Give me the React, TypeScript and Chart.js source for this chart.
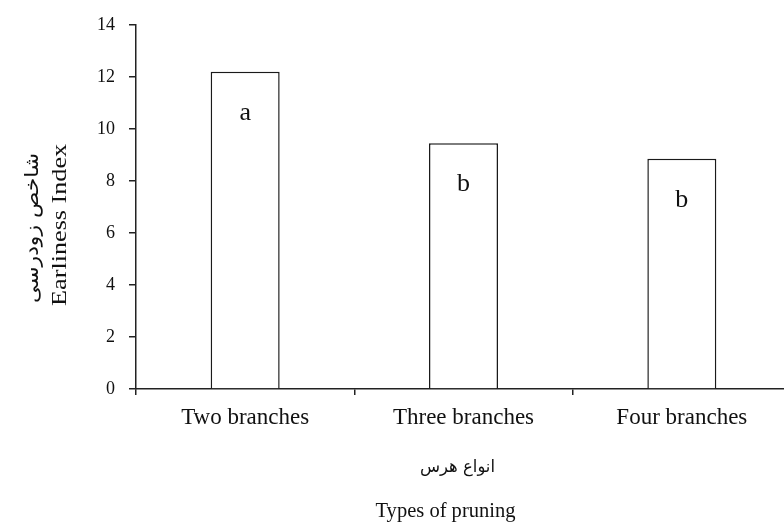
import React, { useEffect, useRef } from "react";
import { Chart, registerables } from "chart.js";

Chart.register(...registerables);

const categories = ["Two branches", "Three branches", "Four branches"];
const earlinessIndex = [12.2, 9.45, 8.85];
const significanceLetters = ["a", "b", "b"];
const yTicks = [0, 2, 4, 6, 8, 10, 12, 14];
const yTitleFa = "شاخص زودرسی";
const yTitleEn = "Earliness Index";
const xTitleFa = "انواع هرس";
const xTitleEn = "Types of pruning";

const SERIF = '"Liberation Serif", "Times New Roman", serif';
const ARABIC = '"DejaVu Sans", sans-serif';
const INK = "#111111";
const AXIS = "#222222";

const annotate = {
  id: "annotate",
  afterDatasetsDraw(chart: any) {
    const ctx = chart.ctx;
    const meta = chart.getDatasetMeta(0);
    ctx.save();
    ctx.fillStyle = INK;
    ctx.font = `26px ${SERIF}`;
    ctx.textAlign = "center";
    ctx.textBaseline = "alphabetic";
    meta.data.forEach((bar: any, i: number) => {
      ctx.fillText(significanceLetters[i], bar.x, bar.y + 48);
    });
    ctx.restore();
  },
  afterDraw(chart: any) {
    const { ctx, chartArea } = chart;
    const drawStretched = (
      text: string,
      font: string,
      cx: number,
      cy: number,
      rot: number,
      targetLen: number
    ) => {
      ctx.save();
      ctx.font = font;
      ctx.fillStyle = INK;
      ctx.translate(cx, cy);
      ctx.rotate(rot);
      const w = ctx.measureText(text).width || 1;
      ctx.scale(targetLen / w, 1);
      ctx.textAlign = "center";
      ctx.textBaseline = "middle";
      ctx.fillText(text, 0, 0);
      ctx.restore();
    };
    const midY = (chartArea.top + chartArea.bottom) / 2;
    const midX = (chartArea.left + chartArea.right) / 2;
    drawStretched(yTitleEn, `21px ${SERIF}`, chartArea.left - 76, midY + 18, -Math.PI / 2, 162);
    drawStretched(yTitleFa, `19px ${ARABIC}`, chartArea.left - 103, midY + 21, -Math.PI / 2, 150);
    drawStretched(xTitleFa, `17px ${ARABIC}`, midX - 6, chartArea.bottom + 79, 0, 75);
    drawStretched(xTitleEn, `20px ${SERIF}`, midX - 18, chartArea.bottom + 123, 0, 140);
  },
};

export default function App() {
  const ref = useRef<HTMLCanvasElement | null>(null);

  useEffect(() => {
    if (!ref.current) return;
    const chart = new Chart(ref.current, {
      type: "bar",
      data: {
        labels: categories,
        datasets: [
          {
            data: earlinessIndex,
            backgroundColor: "#ffffff",
            borderColor: "#1a1a1a",
            borderWidth: 1.5,
            barPercentage: 0.316,
            categoryPercentage: 1,
          },
        ],
      },
      options: {
        responsive: false,
        animation: false,
        events: [],
        layout: { padding: { top: 24, left: 0, right: 0, bottom: 0 } },
        plugins: {
          legend: { display: false },
          tooltip: { enabled: false },
        },
        scales: {
          x: {
            type: "category",
            offset: true,
            grid: {
              offset: true,
              drawOnChartArea: false,
              drawTicks: true,
              tickLength: 6,
              color: AXIS,
              lineWidth: 1.5,
            },
            border: { display: true, color: AXIS, width: 1.5 },
            ticks: {
              color: INK,
              font: { family: SERIF, size: 23 },
              padding: 9,
              maxRotation: 0,
              autoSkip: false,
            },
            afterFit: (s: any) => {
              s.height = 133;
            },
          },
          y: {
            min: yTicks[0],
            max: yTicks[yTicks.length - 1],
            ticks: {
              stepSize: yTicks[1] - yTicks[0],
              color: INK,
              font: { family: SERIF, size: 18 },
              padding: 14,
            },
            grid: {
              drawOnChartArea: false,
              drawTicks: true,
              tickLength: 7,
              color: AXIS,
              lineWidth: 1.5,
            },
            border: { display: true, color: AXIS, width: 1.5 },
            afterFit: (s: any) => {
              s.width = 136;
            },
          },
        },
      },
      plugins: [annotate],
    });
    return () => chart.destroy();
  }, []);

  return (
    <div
      style={{
        position: "fixed",
        left: 0,
        top: 0,
        width: 791,
        height: 522,
        background: "#ffffff",
        overflow: "hidden",
      }}
    >
      <canvas ref={ref} width={791} height={522} style={{ display: "block" }} />
    </div>
  );
}
